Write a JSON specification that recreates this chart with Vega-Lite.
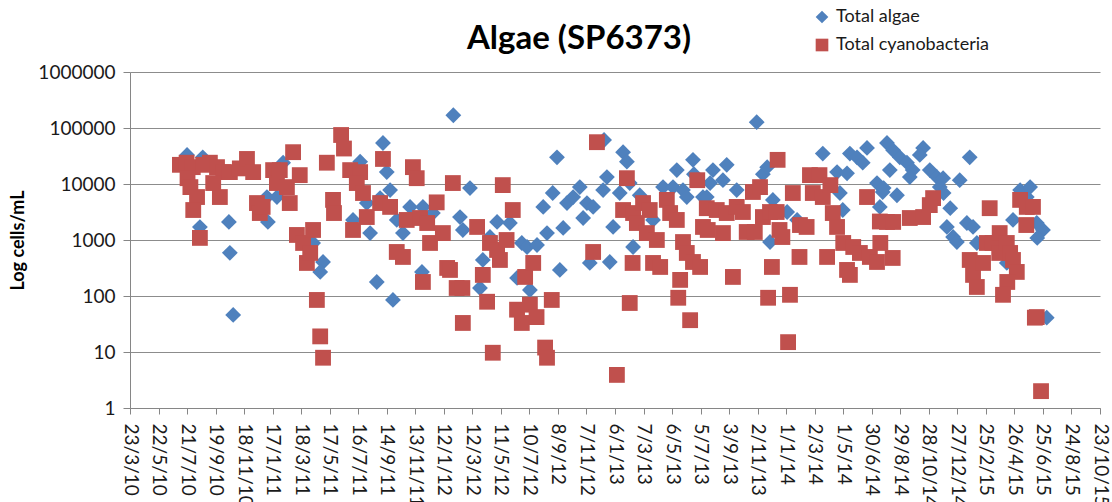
{
  "$schema": "https://vega.github.io/schema/vega-lite/v6.json",
  "width": 970,
  "height": 336,
  "autosize": {"type": "none"},
  "padding": {"left": 130, "top": 72, "right": 12, "bottom": 94},
  "background": "white",
  "title": {"text": "Algae (SP6373)", "font": "Lato", "fontSize": 33, "fontWeight": "bold", "color": "black", "anchor": "middle", "dx": -36, "baseline": "alphabetic", "offset": -74},
  "data": {"values": [
    {"date": "2010-07-21", "series": "Total algae", "cells": 33000},
    {"date": "2010-08-23", "series": "Total algae", "cells": 30000},
    {"date": "2010-08-17", "series": "Total algae", "cells": 1700},
    {"date": "2010-10-17", "series": "Total algae", "cells": 2100},
    {"date": "2010-10-19", "series": "Total algae", "cells": 590},
    {"date": "2010-10-26", "series": "Total algae", "cells": 46},
    {"date": "2011-01-05", "series": "Total algae", "cells": 5850},
    {"date": "2011-01-07", "series": "Total algae", "cells": 2100},
    {"date": "2011-01-26", "series": "Total algae", "cells": 5850},
    {"date": "2011-02-08", "series": "Total algae", "cells": 24000},
    {"date": "2011-04-12", "series": "Total algae", "cells": 885},
    {"date": "2011-05-03", "series": "Total algae", "cells": 405},
    {"date": "2011-04-27", "series": "Total algae", "cells": 269},
    {"date": "2011-07-20", "series": "Total algae", "cells": 25000},
    {"date": "2011-09-06", "series": "Total algae", "cells": 54000},
    {"date": "2011-09-14", "series": "Total algae", "cells": 16300},
    {"date": "2011-09-21", "series": "Total algae", "cells": 7800},
    {"date": "2011-08-31", "series": "Total algae", "cells": 5600},
    {"date": "2011-08-03", "series": "Total algae", "cells": 4570},
    {"date": "2011-07-05", "series": "Total algae", "cells": 2280},
    {"date": "2011-08-10", "series": "Total algae", "cells": 1330},
    {"date": "2011-08-24", "series": "Total algae", "cells": 178},
    {"date": "2011-09-27", "series": "Total algae", "cells": 85},
    {"date": "2011-10-05", "series": "Total algae", "cells": 2280},
    {"date": "2011-10-18", "series": "Total algae", "cells": 1330},
    {"date": "2011-11-02", "series": "Total algae", "cells": 3900},
    {"date": "2011-11-29", "series": "Total algae", "cells": 3900},
    {"date": "2011-12-20", "series": "Total algae", "cells": 3030},
    {"date": "2011-11-27", "series": "Total algae", "cells": 269},
    {"date": "2012-02-01", "series": "Total algae", "cells": 169000},
    {"date": "2012-03-07", "series": "Total algae", "cells": 8450},
    {"date": "2012-02-15", "series": "Total algae", "cells": 2570},
    {"date": "2012-02-21", "series": "Total algae", "cells": 1510},
    {"date": "2012-05-03", "series": "Total algae", "cells": 2100},
    {"date": "2012-05-30", "series": "Total algae", "cells": 2010},
    {"date": "2012-04-03", "series": "Total algae", "cells": 440},
    {"date": "2012-03-28", "series": "Total algae", "cells": 139},
    {"date": "2012-06-14", "series": "Total algae", "cells": 210},
    {"date": "2012-06-24", "series": "Total algae", "cells": 885},
    {"date": "2012-04-18", "series": "Total algae", "cells": 1130},
    {"date": "2012-09-06", "series": "Total algae", "cells": 30000},
    {"date": "2012-07-05", "series": "Total algae", "cells": 750},
    {"date": "2012-07-26", "series": "Total algae", "cells": 815},
    {"date": "2012-08-16", "series": "Total algae", "cells": 1330},
    {"date": "2012-08-08", "series": "Total algae", "cells": 3900},
    {"date": "2012-08-28", "series": "Total algae", "cells": 6900},
    {"date": "2012-09-27", "series": "Total algae", "cells": 4570},
    {"date": "2012-10-10", "series": "Total algae", "cells": 5850},
    {"date": "2012-10-24", "series": "Total algae", "cells": 8800},
    {"date": "2012-10-31", "series": "Total algae", "cells": 2470},
    {"date": "2012-11-08", "series": "Total algae", "cells": 4570},
    {"date": "2012-11-21", "series": "Total algae", "cells": 3900},
    {"date": "2012-09-19", "series": "Total algae", "cells": 1640},
    {"date": "2012-09-12", "series": "Total algae", "cells": 292},
    {"date": "2012-11-14", "series": "Total algae", "cells": 389},
    {"date": "2012-12-26", "series": "Total algae", "cells": 405},
    {"date": "2012-12-12", "series": "Total algae", "cells": 7800},
    {"date": "2012-12-20", "series": "Total algae", "cells": 13300},
    {"date": "2012-12-14", "series": "Total algae", "cells": 61000},
    {"date": "2013-01-02", "series": "Total algae", "cells": 1710},
    {"date": "2013-01-16", "series": "Total algae", "cells": 6900},
    {"date": "2013-01-23", "series": "Total algae", "cells": 37000},
    {"date": "2013-01-31", "series": "Total algae", "cells": 25000},
    {"date": "2013-02-06", "series": "Total algae", "cells": 10400},
    {"date": "2013-02-13", "series": "Total algae", "cells": 750},
    {"date": "2013-02-27", "series": "Total algae", "cells": 6300},
    {"date": "2013-03-27", "series": "Total algae", "cells": 2280},
    {"date": "2013-04-17", "series": "Total algae", "cells": 8800},
    {"date": "2013-05-08", "series": "Total algae", "cells": 8800},
    {"date": "2013-05-29", "series": "Total algae", "cells": 7800},
    {"date": "2013-06-06", "series": "Total algae", "cells": 5850},
    {"date": "2013-05-16", "series": "Total algae", "cells": 17700},
    {"date": "2013-06-19", "series": "Total algae", "cells": 27000},
    {"date": "2013-06-21", "series": "Total algae", "cells": 15000},
    {"date": "2013-07-10", "series": "Total algae", "cells": 5850},
    {"date": "2012-07-11", "series": "Total algae", "cells": 128},
    {"date": "2013-07-31", "series": "Total algae", "cells": 17700},
    {"date": "2013-08-29", "series": "Total algae", "cells": 22000},
    {"date": "2013-07-25", "series": "Total algae", "cells": 10400},
    {"date": "2013-08-21", "series": "Total algae", "cells": 11700},
    {"date": "2013-07-18", "series": "Total algae", "cells": 5850},
    {"date": "2013-09-19", "series": "Total algae", "cells": 7800},
    {"date": "2013-10-31", "series": "Total algae", "cells": 127000},
    {"date": "2013-11-13", "series": "Total algae", "cells": 15000},
    {"date": "2013-11-22", "series": "Total algae", "cells": 20000},
    {"date": "2013-12-04", "series": "Total algae", "cells": 5200},
    {"date": "2014-01-03", "series": "Total algae", "cells": 3160},
    {"date": "2014-01-24", "series": "Total algae", "cells": 2280},
    {"date": "2013-11-28", "series": "Total algae", "cells": 920},
    {"date": "2014-03-19", "series": "Total algae", "cells": 35000},
    {"date": "2014-04-18", "series": "Total algae", "cells": 16300},
    {"date": "2014-05-09", "series": "Total algae", "cells": 15500},
    {"date": "2014-05-15", "series": "Total algae", "cells": 35000},
    {"date": "2014-05-30", "series": "Total algae", "cells": 30000},
    {"date": "2014-06-20", "series": "Total algae", "cells": 44000},
    {"date": "2014-06-11", "series": "Total algae", "cells": 24000},
    {"date": "2014-04-24", "series": "Total algae", "cells": 6900},
    {"date": "2014-04-30", "series": "Total algae", "cells": 3430},
    {"date": "2014-07-11", "series": "Total algae", "cells": 10400},
    {"date": "2014-07-23", "series": "Total algae", "cells": 7200},
    {"date": "2014-07-17", "series": "Total algae", "cells": 3900},
    {"date": "2014-08-01", "series": "Total algae", "cells": 54000},
    {"date": "2014-08-14", "series": "Total algae", "cells": 40000},
    {"date": "2014-08-28", "series": "Total algae", "cells": 30000},
    {"date": "2014-09-12", "series": "Total algae", "cells": 24000},
    {"date": "2014-09-24", "series": "Total algae", "cells": 17700},
    {"date": "2014-09-18", "series": "Total algae", "cells": 13300},
    {"date": "2014-10-16", "series": "Total algae", "cells": 44000},
    {"date": "2014-10-09", "series": "Total algae", "cells": 33000},
    {"date": "2014-08-07", "series": "Total algae", "cells": 17700},
    {"date": "2014-07-25", "series": "Total algae", "cells": 8450},
    {"date": "2014-08-22", "series": "Total algae", "cells": 6300},
    {"date": "2014-10-30", "series": "Total algae", "cells": 17700},
    {"date": "2014-11-14", "series": "Total algae", "cells": 13300},
    {"date": "2014-11-27", "series": "Total algae", "cells": 12700},
    {"date": "2014-11-20", "series": "Total algae", "cells": 8800},
    {"date": "2014-11-28", "series": "Total algae", "cells": 6900},
    {"date": "2015-01-01", "series": "Total algae", "cells": 11700},
    {"date": "2015-01-22", "series": "Total algae", "cells": 30000},
    {"date": "2014-12-12", "series": "Total algae", "cells": 3700},
    {"date": "2014-12-05", "series": "Total algae", "cells": 1710},
    {"date": "2014-12-18", "series": "Total algae", "cells": 1130},
    {"date": "2014-12-26", "series": "Total algae", "cells": 920},
    {"date": "2015-01-16", "series": "Total algae", "cells": 2010},
    {"date": "2015-01-29", "series": "Total algae", "cells": 1710},
    {"date": "2015-02-06", "series": "Total algae", "cells": 885},
    {"date": "2015-05-08", "series": "Total algae", "cells": 7800},
    {"date": "2015-05-29", "series": "Total algae", "cells": 8800},
    {"date": "2015-05-22", "series": "Total algae", "cells": 5850},
    {"date": "2015-04-23", "series": "Total algae", "cells": 2280},
    {"date": "2015-06-12", "series": "Total algae", "cells": 2010},
    {"date": "2015-06-25", "series": "Total algae", "cells": 1510},
    {"date": "2015-06-13", "series": "Total algae", "cells": 1090},
    {"date": "2015-04-10", "series": "Total algae", "cells": 389},
    {"date": "2015-07-03", "series": "Total algae", "cells": 41},
    {"date": "2010-07-06", "series": "Total cyanobacteria", "cells": 22000},
    {"date": "2010-07-20", "series": "Total cyanobacteria", "cells": 24000},
    {"date": "2010-08-02", "series": "Total cyanobacteria", "cells": 20000},
    {"date": "2010-08-24", "series": "Total cyanobacteria", "cells": 22000},
    {"date": "2010-09-07", "series": "Total cyanobacteria", "cells": 24000},
    {"date": "2010-09-22", "series": "Total cyanobacteria", "cells": 20000},
    {"date": "2010-10-05", "series": "Total cyanobacteria", "cells": 16300},
    {"date": "2010-07-22", "series": "Total cyanobacteria", "cells": 12700},
    {"date": "2010-07-28", "series": "Total cyanobacteria", "cells": 8800},
    {"date": "2010-08-11", "series": "Total cyanobacteria", "cells": 5850},
    {"date": "2010-08-03", "series": "Total cyanobacteria", "cells": 3430},
    {"date": "2010-08-17", "series": "Total cyanobacteria", "cells": 1090},
    {"date": "2010-09-28", "series": "Total cyanobacteria", "cells": 5850},
    {"date": "2010-09-14", "series": "Total cyanobacteria", "cells": 10400},
    {"date": "2010-10-19", "series": "Total cyanobacteria", "cells": 16300},
    {"date": "2010-11-09", "series": "Total cyanobacteria", "cells": 19000},
    {"date": "2010-11-24", "series": "Total cyanobacteria", "cells": 28000},
    {"date": "2010-12-07", "series": "Total cyanobacteria", "cells": 16300},
    {"date": "2010-12-15", "series": "Total cyanobacteria", "cells": 4570},
    {"date": "2010-12-21", "series": "Total cyanobacteria", "cells": 3030},
    {"date": "2010-12-27", "series": "Total cyanobacteria", "cells": 3900},
    {"date": "2011-01-18", "series": "Total cyanobacteria", "cells": 17700},
    {"date": "2011-01-26", "series": "Total cyanobacteria", "cells": 10400},
    {"date": "2011-02-01", "series": "Total cyanobacteria", "cells": 17700},
    {"date": "2011-02-16", "series": "Total cyanobacteria", "cells": 8800},
    {"date": "2011-02-22", "series": "Total cyanobacteria", "cells": 4570},
    {"date": "2011-03-01", "series": "Total cyanobacteria", "cells": 37000},
    {"date": "2011-03-15", "series": "Total cyanobacteria", "cells": 14400},
    {"date": "2011-03-09", "series": "Total cyanobacteria", "cells": 1230},
    {"date": "2011-03-22", "series": "Total cyanobacteria", "cells": 885},
    {"date": "2011-03-30", "series": "Total cyanobacteria", "cells": 389},
    {"date": "2011-04-12", "series": "Total cyanobacteria", "cells": 1510},
    {"date": "2011-04-06", "series": "Total cyanobacteria", "cells": 587},
    {"date": "2011-04-20", "series": "Total cyanobacteria", "cells": 85},
    {"date": "2011-04-27", "series": "Total cyanobacteria", "cells": 19},
    {"date": "2011-05-03", "series": "Total cyanobacteria", "cells": 7.9},
    {"date": "2011-05-11", "series": "Total cyanobacteria", "cells": 24000},
    {"date": "2011-05-24", "series": "Total cyanobacteria", "cells": 5200},
    {"date": "2011-05-26", "series": "Total cyanobacteria", "cells": 3030},
    {"date": "2011-06-10", "series": "Total cyanobacteria", "cells": 75000},
    {"date": "2011-06-16", "series": "Total cyanobacteria", "cells": 43000},
    {"date": "2011-06-29", "series": "Total cyanobacteria", "cells": 17700},
    {"date": "2011-07-20", "series": "Total cyanobacteria", "cells": 16300},
    {"date": "2011-07-13", "series": "Total cyanobacteria", "cells": 10400},
    {"date": "2011-07-26", "series": "Total cyanobacteria", "cells": 6900},
    {"date": "2011-08-31", "series": "Total cyanobacteria", "cells": 4570},
    {"date": "2011-09-21", "series": "Total cyanobacteria", "cells": 3900},
    {"date": "2011-08-03", "series": "Total cyanobacteria", "cells": 2570},
    {"date": "2011-07-05", "series": "Total cyanobacteria", "cells": 1510},
    {"date": "2011-09-06", "series": "Total cyanobacteria", "cells": 28000},
    {"date": "2011-11-08", "series": "Total cyanobacteria", "cells": 20000},
    {"date": "2011-11-16", "series": "Total cyanobacteria", "cells": 12700},
    {"date": "2011-10-05", "series": "Total cyanobacteria", "cells": 611},
    {"date": "2011-10-18", "series": "Total cyanobacteria", "cells": 498},
    {"date": "2011-10-26", "series": "Total cyanobacteria", "cells": 2280},
    {"date": "2011-11-23", "series": "Total cyanobacteria", "cells": 2470},
    {"date": "2011-12-08", "series": "Total cyanobacteria", "cells": 2010},
    {"date": "2011-12-14", "series": "Total cyanobacteria", "cells": 885},
    {"date": "2011-12-28", "series": "Total cyanobacteria", "cells": 4700},
    {"date": "2012-01-10", "series": "Total cyanobacteria", "cells": 1330},
    {"date": "2011-11-29", "series": "Total cyanobacteria", "cells": 178},
    {"date": "2012-01-19", "series": "Total cyanobacteria", "cells": 317},
    {"date": "2012-01-25", "series": "Total cyanobacteria", "cells": 292},
    {"date": "2012-01-31", "series": "Total cyanobacteria", "cells": 10400},
    {"date": "2012-02-08", "series": "Total cyanobacteria", "cells": 139},
    {"date": "2012-02-20", "series": "Total cyanobacteria", "cells": 139},
    {"date": "2012-02-21", "series": "Total cyanobacteria", "cells": 33},
    {"date": "2012-03-22", "series": "Total cyanobacteria", "cells": 1710},
    {"date": "2012-04-03", "series": "Total cyanobacteria", "cells": 238},
    {"date": "2012-04-12", "series": "Total cyanobacteria", "cells": 79},
    {"date": "2012-04-24", "series": "Total cyanobacteria", "cells": 9.7},
    {"date": "2012-04-18", "series": "Total cyanobacteria", "cells": 885},
    {"date": "2012-05-03", "series": "Total cyanobacteria", "cells": 664},
    {"date": "2012-05-15", "series": "Total cyanobacteria", "cells": 9550},
    {"date": "2012-05-09", "series": "Total cyanobacteria", "cells": 440},
    {"date": "2012-05-23", "series": "Total cyanobacteria", "cells": 1000},
    {"date": "2012-06-05", "series": "Total cyanobacteria", "cells": 3430},
    {"date": "2012-06-14", "series": "Total cyanobacteria", "cells": 57},
    {"date": "2012-06-24", "series": "Total cyanobacteria", "cells": 33},
    {"date": "2012-07-01", "series": "Total cyanobacteria", "cells": 219},
    {"date": "2012-07-18", "series": "Total cyanobacteria", "cells": 389},
    {"date": "2012-07-11", "series": "Total cyanobacteria", "cells": 70},
    {"date": "2012-07-25", "series": "Total cyanobacteria", "cells": 42},
    {"date": "2012-08-26", "series": "Total cyanobacteria", "cells": 85},
    {"date": "2012-08-12", "series": "Total cyanobacteria", "cells": 12},
    {"date": "2012-08-16", "series": "Total cyanobacteria", "cells": 7.9},
    {"date": "2012-11-29", "series": "Total cyanobacteria", "cells": 55800},
    {"date": "2012-11-21", "series": "Total cyanobacteria", "cells": 611},
    {"date": "2013-01-10", "series": "Total cyanobacteria", "cells": 3.9},
    {"date": "2013-01-31", "series": "Total cyanobacteria", "cells": 12700},
    {"date": "2013-01-23", "series": "Total cyanobacteria", "cells": 3430},
    {"date": "2013-02-13", "series": "Total cyanobacteria", "cells": 3030},
    {"date": "2013-02-21", "series": "Total cyanobacteria", "cells": 2010},
    {"date": "2013-02-06", "series": "Total cyanobacteria", "cells": 75},
    {"date": "2013-02-12", "series": "Total cyanobacteria", "cells": 389},
    {"date": "2013-03-06", "series": "Total cyanobacteria", "cells": 4570},
    {"date": "2013-03-20", "series": "Total cyanobacteria", "cells": 3430},
    {"date": "2013-03-14", "series": "Total cyanobacteria", "cells": 1330},
    {"date": "2013-04-04", "series": "Total cyanobacteria", "cells": 1000},
    {"date": "2013-03-27", "series": "Total cyanobacteria", "cells": 389},
    {"date": "2013-04-11", "series": "Total cyanobacteria", "cells": 330},
    {"date": "2013-04-25", "series": "Total cyanobacteria", "cells": 5200},
    {"date": "2013-05-02", "series": "Total cyanobacteria", "cells": 3030},
    {"date": "2013-05-16", "series": "Total cyanobacteria", "cells": 2280},
    {"date": "2013-05-29", "series": "Total cyanobacteria", "cells": 920},
    {"date": "2013-06-06", "series": "Total cyanobacteria", "cells": 587},
    {"date": "2013-06-19", "series": "Total cyanobacteria", "cells": 405},
    {"date": "2013-07-04", "series": "Total cyanobacteria", "cells": 330},
    {"date": "2013-05-23", "series": "Total cyanobacteria", "cells": 194},
    {"date": "2013-05-19", "series": "Total cyanobacteria", "cells": 93},
    {"date": "2013-06-13", "series": "Total cyanobacteria", "cells": 37},
    {"date": "2013-06-28", "series": "Total cyanobacteria", "cells": 11700},
    {"date": "2013-07-10", "series": "Total cyanobacteria", "cells": 1710},
    {"date": "2013-07-18", "series": "Total cyanobacteria", "cells": 3700},
    {"date": "2013-08-08", "series": "Total cyanobacteria", "cells": 3430},
    {"date": "2013-08-29", "series": "Total cyanobacteria", "cells": 3030},
    {"date": "2013-09-19", "series": "Total cyanobacteria", "cells": 3900},
    {"date": "2013-10-02", "series": "Total cyanobacteria", "cells": 3160},
    {"date": "2013-07-20", "series": "Total cyanobacteria", "cells": 1510},
    {"date": "2013-08-21", "series": "Total cyanobacteria", "cells": 1330},
    {"date": "2013-09-11", "series": "Total cyanobacteria", "cells": 219},
    {"date": "2013-10-10", "series": "Total cyanobacteria", "cells": 1390},
    {"date": "2013-10-27", "series": "Total cyanobacteria", "cells": 1390},
    {"date": "2013-10-23", "series": "Total cyanobacteria", "cells": 7200},
    {"date": "2013-11-07", "series": "Total cyanobacteria", "cells": 8800},
    {"date": "2013-11-13", "series": "Total cyanobacteria", "cells": 2570},
    {"date": "2013-11-28", "series": "Total cyanobacteria", "cells": 3160},
    {"date": "2013-12-12", "series": "Total cyanobacteria", "cells": 3160},
    {"date": "2013-12-14", "series": "Total cyanobacteria", "cells": 27000},
    {"date": "2013-12-18", "series": "Total cyanobacteria", "cells": 1510},
    {"date": "2013-12-24", "series": "Total cyanobacteria", "cells": 1130},
    {"date": "2013-12-02", "series": "Total cyanobacteria", "cells": 330},
    {"date": "2013-11-24", "series": "Total cyanobacteria", "cells": 93},
    {"date": "2014-01-09", "series": "Total cyanobacteria", "cells": 105},
    {"date": "2014-01-05", "series": "Total cyanobacteria", "cells": 15},
    {"date": "2014-01-15", "series": "Total cyanobacteria", "cells": 6900},
    {"date": "2014-01-30", "series": "Total cyanobacteria", "cells": 1850},
    {"date": "2014-02-13", "series": "Total cyanobacteria", "cells": 1710},
    {"date": "2014-01-29", "series": "Total cyanobacteria", "cells": 498},
    {"date": "2014-02-20", "series": "Total cyanobacteria", "cells": 14400},
    {"date": "2014-02-26", "series": "Total cyanobacteria", "cells": 6900},
    {"date": "2014-03-12", "series": "Total cyanobacteria", "cells": 14400},
    {"date": "2014-03-19", "series": "Total cyanobacteria", "cells": 5850},
    {"date": "2014-04-04", "series": "Total cyanobacteria", "cells": 9550},
    {"date": "2014-03-28", "series": "Total cyanobacteria", "cells": 498},
    {"date": "2014-04-09", "series": "Total cyanobacteria", "cells": 3030},
    {"date": "2014-04-18", "series": "Total cyanobacteria", "cells": 1710},
    {"date": "2014-05-01", "series": "Total cyanobacteria", "cells": 885},
    {"date": "2014-05-09", "series": "Total cyanobacteria", "cells": 292},
    {"date": "2014-05-15", "series": "Total cyanobacteria", "cells": 238},
    {"date": "2014-05-22", "series": "Total cyanobacteria", "cells": 750},
    {"date": "2014-06-05", "series": "Total cyanobacteria", "cells": 587},
    {"date": "2014-06-20", "series": "Total cyanobacteria", "cells": 5850},
    {"date": "2014-06-26", "series": "Total cyanobacteria", "cells": 498},
    {"date": "2014-07-11", "series": "Total cyanobacteria", "cells": 405},
    {"date": "2014-07-17", "series": "Total cyanobacteria", "cells": 2140},
    {"date": "2014-07-18", "series": "Total cyanobacteria", "cells": 885},
    {"date": "2014-08-01", "series": "Total cyanobacteria", "cells": 2100},
    {"date": "2014-08-14", "series": "Total cyanobacteria", "cells": 2100},
    {"date": "2014-08-13", "series": "Total cyanobacteria", "cells": 478},
    {"date": "2014-09-18", "series": "Total cyanobacteria", "cells": 2470},
    {"date": "2014-10-16", "series": "Total cyanobacteria", "cells": 2570},
    {"date": "2014-10-30", "series": "Total cyanobacteria", "cells": 4200},
    {"date": "2014-11-06", "series": "Total cyanobacteria", "cells": 5600},
    {"date": "2015-03-05", "series": "Total cyanobacteria", "cells": 3700},
    {"date": "2015-01-22", "series": "Total cyanobacteria", "cells": 440},
    {"date": "2015-01-29", "series": "Total cyanobacteria", "cells": 238},
    {"date": "2015-02-06", "series": "Total cyanobacteria", "cells": 145},
    {"date": "2015-02-19", "series": "Total cyanobacteria", "cells": 389},
    {"date": "2015-02-27", "series": "Total cyanobacteria", "cells": 885},
    {"date": "2015-03-11", "series": "Total cyanobacteria", "cells": 885},
    {"date": "2015-03-26", "series": "Total cyanobacteria", "cells": 1330},
    {"date": "2015-03-25", "series": "Total cyanobacteria", "cells": 587},
    {"date": "2015-04-10", "series": "Total cyanobacteria", "cells": 885},
    {"date": "2015-04-17", "series": "Total cyanobacteria", "cells": 587},
    {"date": "2015-04-23", "series": "Total cyanobacteria", "cells": 440},
    {"date": "2015-05-01", "series": "Total cyanobacteria", "cells": 269},
    {"date": "2015-04-11", "series": "Total cyanobacteria", "cells": 178},
    {"date": "2015-04-02", "series": "Total cyanobacteria", "cells": 105},
    {"date": "2015-05-08", "series": "Total cyanobacteria", "cells": 5200},
    {"date": "2015-05-22", "series": "Total cyanobacteria", "cells": 3900},
    {"date": "2015-06-04", "series": "Total cyanobacteria", "cells": 3900},
    {"date": "2015-05-21", "series": "Total cyanobacteria", "cells": 1850},
    {"date": "2015-06-12", "series": "Total cyanobacteria", "cells": 42},
    {"date": "2015-06-08", "series": "Total cyanobacteria", "cells": 41},
    {"date": "2015-06-21", "series": "Total cyanobacteria", "cells": 2}
  ]},
  "mark": {"type": "point", "filled": true, "opacity": 1, "size": 250, "strokeWidth": 0},
  "encoding": {
    "x": {
      "field": "date", "type": "temporal",
      "scale": {"type": "utc", "domain": [{"year": 2010, "month": 3, "date": 23, "utc": true}, {"year": 2015, "month": 10, "date": 23, "utc": true}]},
      "axis": {
        "title": null, "format": "%-d/%-m/%y", "labelAngle": 90, "labelFont": "Lato", "labelFontSize": 19, "labelColor": "#1a1a1a",
        "labelPadding": 9, "tickSize": 6, "tickColor": "#868686", "domainColor": "#868686", "grid": false, "labelOverlap": false, "labelFlush": false, "labelBound": false,
        "values": [
          {"year": 2010, "month": 3, "date": 23, "utc": true},
          {"year": 2010, "month": 5, "date": 22, "utc": true},
          {"year": 2010, "month": 7, "date": 21, "utc": true},
          {"year": 2010, "month": 9, "date": 19, "utc": true},
          {"year": 2010, "month": 11, "date": 18, "utc": true},
          {"year": 2011, "month": 1, "date": 17, "utc": true},
          {"year": 2011, "month": 3, "date": 18, "utc": true},
          {"year": 2011, "month": 5, "date": 17, "utc": true},
          {"year": 2011, "month": 7, "date": 16, "utc": true},
          {"year": 2011, "month": 9, "date": 14, "utc": true},
          {"year": 2011, "month": 11, "date": 13, "utc": true},
          {"year": 2012, "month": 1, "date": 12, "utc": true},
          {"year": 2012, "month": 3, "date": 12, "utc": true},
          {"year": 2012, "month": 5, "date": 11, "utc": true},
          {"year": 2012, "month": 7, "date": 10, "utc": true},
          {"year": 2012, "month": 9, "date": 8, "utc": true},
          {"year": 2012, "month": 11, "date": 7, "utc": true},
          {"year": 2013, "month": 1, "date": 6, "utc": true},
          {"year": 2013, "month": 3, "date": 7, "utc": true},
          {"year": 2013, "month": 5, "date": 6, "utc": true},
          {"year": 2013, "month": 7, "date": 5, "utc": true},
          {"year": 2013, "month": 9, "date": 3, "utc": true},
          {"year": 2013, "month": 11, "date": 2, "utc": true},
          {"year": 2014, "month": 1, "date": 1, "utc": true},
          {"year": 2014, "month": 3, "date": 2, "utc": true},
          {"year": 2014, "month": 5, "date": 1, "utc": true},
          {"year": 2014, "month": 6, "date": 30, "utc": true},
          {"year": 2014, "month": 8, "date": 29, "utc": true},
          {"year": 2014, "month": 10, "date": 28, "utc": true},
          {"year": 2014, "month": 12, "date": 27, "utc": true},
          {"year": 2015, "month": 2, "date": 25, "utc": true},
          {"year": 2015, "month": 4, "date": 26, "utc": true},
          {"year": 2015, "month": 6, "date": 25, "utc": true},
          {"year": 2015, "month": 8, "date": 24, "utc": true},
          {"year": 2015, "month": 10, "date": 23, "utc": true}
        ]
      }
    },
    "y": {
      "field": "cells", "type": "quantitative",
      "scale": {"type": "log", "domain": [1, 1000000]},
      "axis": {
        "title": "Log cells/mL", "titleFont": "Lato", "titleFontSize": 18, "titleFontWeight": "bold", "titleColor": "black",
        "titleAngle": 270, "titleX": -112, "titleY": 168, "titleAlign": "center", "titleBaseline": "middle",
        "values": [1, 10, 100, 1000, 10000, 100000, 1000000], "format": "d",
        "labelFont": "Lato", "labelFontSize": 19, "labelColor": "#1a1a1a", "labelPadding": 8,
        "tickSize": 7, "tickColor": "#868686", "domainColor": "#868686", "grid": true, "gridColor": "#8c8c8c", "gridWidth": 1
      }
    },
    "color": {
      "field": "series", "type": "nominal",
      "scale": {"domain": ["Total algae", "Total cyanobacteria"], "range": ["#4F81BD", "#C0504D"]},
      "legend": {"orient": "none", "legendX": 683, "legendY": -64, "title": null, "labelFont": "Lato", "labelFontSize": 18, "labelColor": "#1a1a1a", "symbolSize": 160, "labelOffset": 5, "rowPadding": 10, "symbolStrokeWidth": 0}
    },
    "shape": {
      "field": "series", "type": "nominal",
      "scale": {"domain": ["Total algae", "Total cyanobacteria"], "range": ["diamond", "square"]}
    }
  },
  "config": {"view": {"stroke": null}, "font": "Lato"}
}
